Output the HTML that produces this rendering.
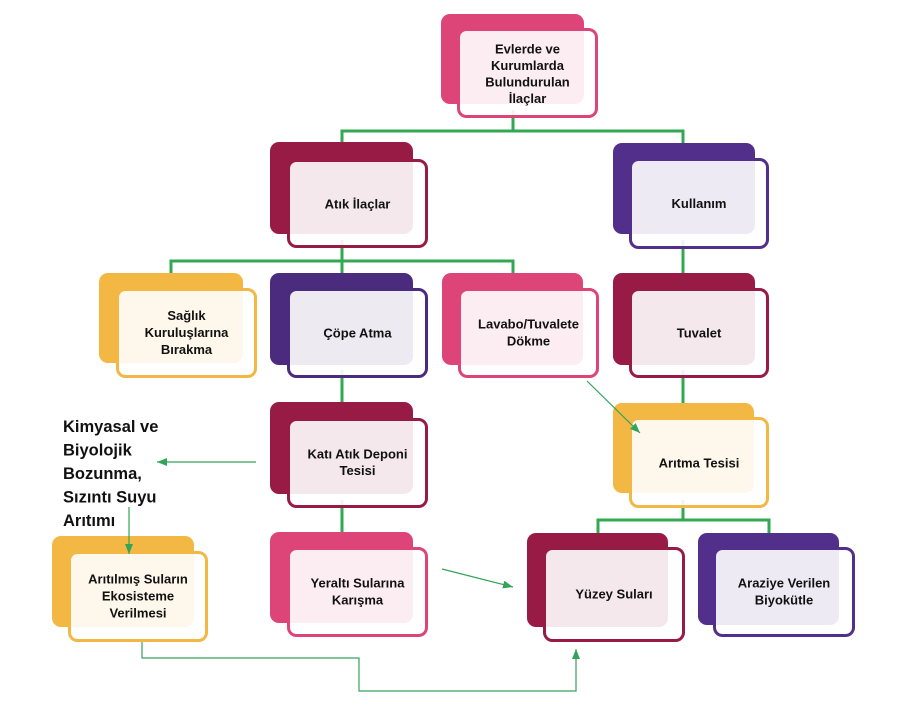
<!DOCTYPE html>
<html>
<head>
<meta charset="utf-8">
<style>
  html,body{margin:0;padding:0;background:#fff;}
  svg{display:block;}
  text{font-family:"Liberation Sans",Arial,sans-serif;font-weight:bold;fill:#111;}
</style>
</head>
<body>
<svg width="905" height="713" viewBox="0 0 905 713" xmlns="http://www.w3.org/2000/svg">
  <defs>
    <marker id="ah" markerUnits="userSpaceOnUse" markerWidth="10" markerHeight="8" refX="10" refY="4" orient="auto">
      <path d="M0,0 L10,4 L0,8 z" fill="#34a35a"/>
    </marker>
  </defs>

  <!-- thick connectors -->
  <g stroke="#33a853" stroke-width="3" fill="none">
    <line x1="513" y1="110" x2="513" y2="131"/>
    <polyline points="342,142 342,131 683,131 683,143"/>
    <line x1="342" y1="240" x2="342" y2="261"/>
    <polyline points="171,273 171,261 513,261 513,273"/>
    <line x1="342" y1="261" x2="342" y2="273"/>
    <line x1="683" y1="240" x2="683" y2="273"/>
    <line x1="683" y1="370" x2="683" y2="403"/>
    <line x1="342" y1="370" x2="342" y2="402"/>
    <line x1="342" y1="500" x2="342" y2="532"/>
    <line x1="683" y1="500" x2="683" y2="520"/>
    <polyline points="598,533 598,520 769,520 769,533"/>
  </g>

  <!-- back rectangles -->
  <g>
    <rect x="441" y="14" width="143" height="90" rx="9" fill="#dd4578"/>
    <rect x="270" y="142" width="143" height="92" rx="9" fill="#981b45"/>
    <rect x="613" y="143" width="142" height="91" rx="9" fill="#522f8a"/>
    <rect x="99" y="273" width="144" height="90" rx="9" fill="#f2b843"/>
    <rect x="270" y="273" width="143" height="92" rx="9" fill="#4b2b7e"/>
    <rect x="442" y="273" width="141" height="92" rx="9" fill="#dd4578"/>
    <rect x="613" y="273" width="142" height="92" rx="9" fill="#981b45"/>
    <rect x="270" y="402" width="143" height="92" rx="9" fill="#981b45"/>
    <rect x="613" y="403" width="141" height="90" rx="9" fill="#f2b843"/>
    <rect x="52" y="536" width="142" height="91" rx="9" fill="#f2b843"/>
    <rect x="270" y="532" width="143" height="91" rx="9" fill="#dd4578"/>
    <rect x="527" y="533" width="141" height="94" rx="9" fill="#981b45"/>
    <rect x="698" y="533" width="141" height="92" rx="9" fill="#522f8a"/>
  </g>

  <!-- front rectangles -->
  <g fill="#ffffff" fill-opacity="0.9" stroke-width="3">
    <rect x="458.5" y="29.5" width="138" height="87" rx="8" stroke="#dd4578"/>
    <rect x="288.5" y="160.5" width="138" height="86" rx="8" stroke="#981b45"/>
    <rect x="630.5" y="159.5" width="137" height="88" rx="8" stroke="#522f8a"/>
    <rect x="117.5" y="289.5" width="138" height="87" rx="8" stroke="#f2b843"/>
    <rect x="288.5" y="289.5" width="138" height="87" rx="8" stroke="#4b2b7e"/>
    <rect x="459.5" y="289.5" width="138" height="87" rx="8" stroke="#dd4578"/>
    <rect x="630.5" y="289.5" width="137" height="87" rx="8" stroke="#981b45"/>
    <rect x="288.5" y="419.5" width="138" height="87" rx="8" stroke="#981b45"/>
    <rect x="630.5" y="418.5" width="137" height="88" rx="8" stroke="#f2b843"/>
    <rect x="69.5" y="552.5" width="137" height="88" rx="8" stroke="#f2b843"/>
    <rect x="288.5" y="548.5" width="138" height="87" rx="8" stroke="#dd4578"/>
    <rect x="544.5" y="548.5" width="139" height="92" rx="8" stroke="#981b45"/>
    <rect x="714.5" y="548.5" width="139" height="87" rx="8" stroke="#522f8a"/>
  </g>

  <!-- node labels -->
  <g font-size="13" text-anchor="middle">
    <text x="527.5" y="53.5">Evlerde ve</text>
    <text x="527.5" y="70">Kurumlarda</text>
    <text x="527.5" y="86.5">Bulundurulan</text>
    <text x="527.5" y="103">İlaçlar</text>

    <text x="357.5" y="208.5">Atık İlaçlar</text>
    <text x="699" y="208">Kullanım</text>

    <text x="186.5" y="320">Sağlık</text>
    <text x="186.5" y="337">Kuruluşlarına</text>
    <text x="186.5" y="354">Bırakma</text>

    <text x="357.5" y="337.5">Çöpe Atma</text>

    <text x="528.5" y="328.5">Lavabo/Tuvalete</text>
    <text x="528.5" y="345.5">Dökme</text>

    <text x="699" y="337.5">Tuvalet</text>

    <text x="357.5" y="458.5">Katı Atık Deponi</text>
    <text x="357.5" y="475">Tesisi</text>

    <text x="699" y="467.5">Arıtma Tesisi</text>

    <text x="138" y="583.5">Arıtılmış Suların</text>
    <text x="138" y="600.5">Ekosisteme</text>
    <text x="138" y="617.5">Verilmesi</text>

    <text x="357.5" y="587.5">Yeraltı Sularına</text>
    <text x="357.5" y="604.5">Karışma</text>

    <text x="614" y="598.5">Yüzey Suları</text>

    <text x="784" y="587.5">Araziye Verilen</text>
    <text x="784" y="604.5">Biyokütle</text>
  </g>

  <!-- left free text -->
  <g font-size="16.5">
    <text x="63" y="432">Kimyasal ve</text>
    <text x="63" y="455.5">Biyolojik</text>
    <text x="63" y="479">Bozunma,</text>
    <text x="63" y="502.5">Sızıntı Suyu</text>
    <text x="63" y="526">Arıtımı</text>
  </g>

  <!-- thin arrows -->
  <g stroke="#34a35a" stroke-width="1.2" fill="none">
    <line x1="256" y1="462" x2="157" y2="462" marker-end="url(#ah)"/>
    <line x1="129" y1="507" x2="129" y2="554" marker-end="url(#ah)"/>
    <line x1="587" y1="381" x2="640" y2="433" marker-end="url(#ah)"/>
    <line x1="442" y1="569" x2="513" y2="587" marker-end="url(#ah)"/>
    <polyline points="142,642 142,658 359,658 359,691 576,691 576,649" marker-end="url(#ah)"/>
  </g>
</svg>
</body>
</html>
